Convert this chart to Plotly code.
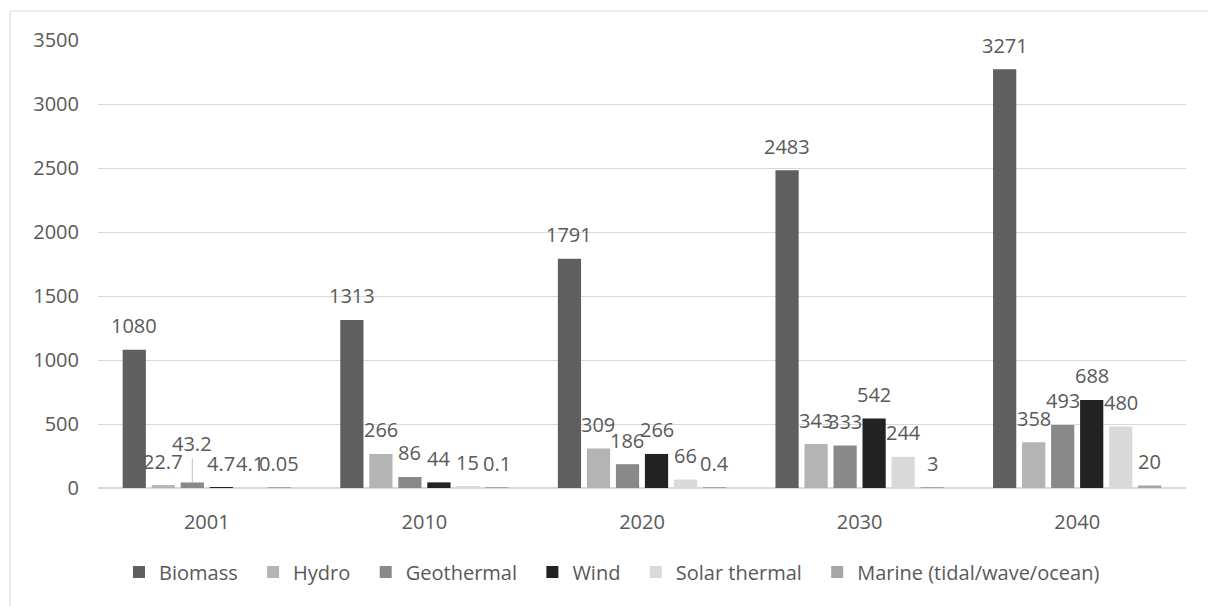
import plotly.graph_objects as go

# Renewable energy output by source, per year
years = ["2001", "2010", "2020", "2030", "2040"]
biomass = [1080, 1313, 1791, 2483, 3271]
hydro = [22.7, 266, 309, 343, 358]
geothermal = [43.2, 86, 186, 333, 493]
wind = [4.7, 44, 266, 542, 688]
solar_thermal = [4.1, 15, 66, 244, 480]
marine = [0.05, 0.1, 0.4, 3, 20]

y_ticks = [0, 500, 1000, 1500, 2000, 2500, 3000, 3500]

series = [
    ("Biomass", biomass, "#5f5f5f"),
    ("Hydro", hydro, "#b4b4b4"),
    ("Geothermal", geothermal, "#898989"),
    ("Wind", wind, "#222222"),
    ("Solar thermal", solar_thermal, "#d9d9d9"),
    ("Marine (tidal/wave/ocean)", marine, "#a6a6a6"),
]

# page / plot geometry (pixels)
W, H = 1208, 606
ML, MR, MT, MB = 98, 22, 40, 118
plot_w = W - ML - MR
plot_h = H - MT - MB
BARGAP = 0.2
BARGROUPGAP = 0.2
slot_px = plot_w / len(years) * (1 - BARGAP) / len(series)

FONT = "Open Sans"
TXT = "#595959"
GRID = "#d9d9d9"
PAD = "\u00a0\u00a0"   # extra spacing between legend entries

# labels lifted off their bar with a leader line
lifted = {("Geothermal", "2001"): 39}

fig = go.Figure()
annotations = []
for i, (name, vals, color) in enumerate(series):
    label = name if i == len(series) - 1 else name + PAD
    fig.add_trace(go.Bar(
        name=label, x=years, y=vals,
        marker=dict(color=color, line=dict(width=0)),
        hovertemplate=name + ": %{y}<extra>%{x}</extra>",
    ))
    shift = (i - (len(series) - 1) / 2) * slot_px
    for j, (yr, v) in enumerate(zip(years, vals)):
        lift = lifted.get((name, yr))
        ann = dict(
            x=j, y=v, xref="x", yref="y",
            text=f"{v:g}", xshift=shift,
            font=dict(family=FONT, size=20, color=TXT),
        )
        if lift:
            ann.update(showarrow=True, arrowhead=0, arrowwidth=1,
                       arrowcolor="#bfbfbf", ax=0, ay=-lift, standoff=0)
        else:
            ann.update(showarrow=False, yanchor="middle", yshift=24)
        annotations.append(ann)

# outer chart frame
fx = lambda px: (px - ML) / plot_w
fy = lambda py: (H - MB - py) / plot_h
shapes = [dict(type="rect", xref="paper", yref="paper",
               x0=fx(10), x1=fx(W + 20), y0=fy(H + 20), y1=fy(11),
               line=dict(color=GRID, width=1), fillcolor="rgba(0,0,0,0)",
               layer="below")]

fig.update_layout(
    width=W, height=H,
    margin=dict(l=ML, r=MR, t=MT, b=MB),
    paper_bgcolor="white", plot_bgcolor="white",
    barmode="group", bargap=BARGAP, bargroupgap=BARGROUPGAP,
    font=dict(family=FONT, size=20, color=TXT),
    annotations=annotations,
    shapes=shapes,
    legend=dict(orientation="h", x=fx(612), xanchor="center",
                y=fy(572), yanchor="middle",
                font=dict(family=FONT, size=20, color=TXT),
                itemclick=False, itemdoubleclick=False),
    xaxis=dict(type="category", range=[-0.5, len(years) - 0.5],
               showgrid=False, showline=True,
               linecolor=GRID, linewidth=1,
               ticks="", ticklabelstandoff=16,
               tickfont=dict(family=FONT, size=20, color=TXT)),
    yaxis=dict(range=[0, 3500], tickvals=y_ticks, showgrid=True,
               gridcolor=GRID, gridwidth=1, zeroline=True,
               zerolinecolor=GRID, showline=False, ticks="",
               ticklabelstandoff=18,
               tickfont=dict(family=FONT, size=20, color=TXT)),
)

fig.write_html("out.html")
